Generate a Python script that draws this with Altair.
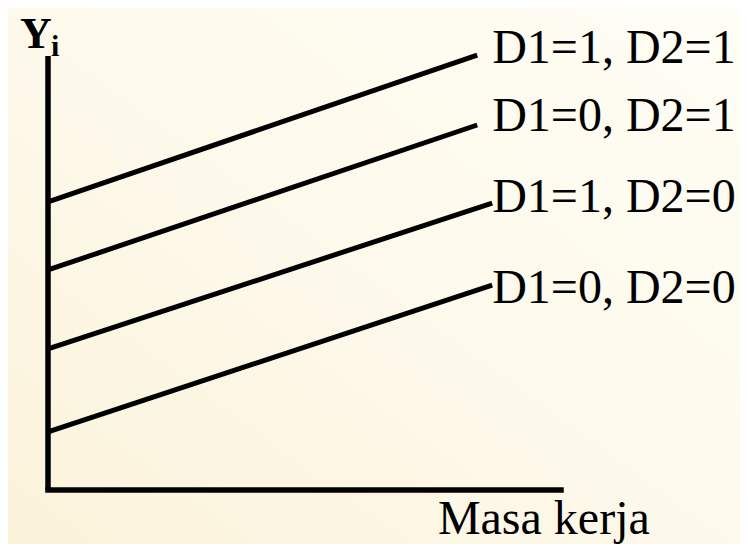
import altair as alt
import pandas as pd

# ---- data (chart units) ----
series = ["D1=1, D2=1", "D1=0, D2=1", "D1=1, D2=0", "D1=0, D2=0"]
x_start = [0, 0, 0, 0]
y_start = [6.64, 5.07, 3.25, 1.34]
x_end = [10.04, 10.04, 10.39, 10.39]
y_end = [10.02, 8.41, 6.61, 4.72]
label_x = [10.39, 10.39, 10.39, 10.39]
label_y = [9.84, 8.27, 6.41, 4.31]

axis_x0 = [0, 0]
axis_y0 = [0, 0]
axis_x1 = [0, 12]
axis_y1 = [10, 0]

lines_df = pd.DataFrame({"series": series, "x0": x_start, "y0": y_start,
                         "x1": x_end, "y1": y_end})
labels_df = pd.DataFrame({"text": series, "x": label_x, "y": label_y})
axes_df = pd.DataFrame({"x0": axis_x0, "y0": axis_y0, "x1": axis_x1, "y1": axis_y1})

W, H = 732, 536
xs = alt.Scale(domain=[0, 12], range=[40, 553], nice=False, zero=False)
ys = alt.Scale(domain=[0, 10], range=[482, 48], nice=False, zero=False)
FONT = "Liberation Serif"

grad = alt.Gradient(
    gradient="linear",
    stops=[alt.GradientStop(color="#FBF2DA", offset=0),
           alt.GradientStop(color="#FDF9EB", offset=0.5),
           alt.GradientStop(color="#FFFEF5", offset=1)],
    x1=0, y1=1, x2=1, y2=0,
)

bg = alt.Chart(pd.DataFrame({"a": [0]})).mark_rect(color=grad).encode(
    x=alt.value(0), x2=alt.value(W), y=alt.value(0), y2=alt.value(H)
)

vaxis = alt.Chart(axes_df.iloc[[0]]).mark_rule(color="black", strokeWidth=5.5, strokeCap="butt").encode(
    x=alt.X("x0:Q", scale=xs, axis=None), y=alt.Y("y0:Q", scale=ys, axis=None),
    x2="x1:Q", y2="y1:Q")
haxis = alt.Chart(axes_df.iloc[[1]]).mark_rule(color="black", strokeWidth=5.5, strokeCap="square").encode(
    x=alt.X("x0:Q", scale=xs, axis=None), y=alt.Y("y0:Q", scale=ys, axis=None),
    x2="x1:Q", y2="y1:Q")

lines = alt.Chart(lines_df).mark_rule(color="black", strokeWidth=5, strokeCap="butt").encode(
    x=alt.X("x0:Q", scale=xs, axis=None), y=alt.Y("y0:Q", scale=ys, axis=None),
    x2="x1:Q", y2="y1:Q")

labels = alt.Chart(labels_df).mark_text(
    font=FONT, fontSize=48, align="left", baseline="alphabetic", color="black"
).encode(x=alt.X("x:Q", scale=xs, axis=None), y=alt.Y("y:Q", scale=ys, axis=None), text="text:N")

ytitle_df = pd.DataFrame({"text": ["Y"], "x": [-0.655], "y": [10.18]})
ysub_df = pd.DataFrame({"text": ["i"], "x": [0.07], "y": [10.0]})
xtitle_df = pd.DataFrame({"text": ["Masa kerja"], "x": [9.12], "y": [-1.01]})

ytitle = alt.Chart(ytitle_df).mark_text(
    font=FONT, fontSize=44, fontWeight="bold", align="left", baseline="alphabetic", color="black"
).encode(x=alt.X("x:Q", scale=xs, axis=None), y=alt.Y("y:Q", scale=ys, axis=None), text="text:N")
ysub = alt.Chart(ysub_df).mark_text(
    font=FONT, fontSize=30, fontWeight="bold", align="left", baseline="alphabetic", color="black"
).encode(x=alt.X("x:Q", scale=xs, axis=None), y=alt.Y("y:Q", scale=ys, axis=None), text="text:N")
xtitle = alt.Chart(xtitle_df).mark_text(
    font=FONT, fontSize=48, align="left", baseline="alphabetic", color="black"
).encode(x=alt.X("x:Q", scale=xs, axis=None), y=alt.Y("y:Q", scale=ys, axis=None), text="text:N")

chart = alt.layer(bg, lines, vaxis, haxis, labels, ytitle, ysub, xtitle).properties(
    width=W, height=H,
    autosize=alt.AutoSizeParams(type="none"),
    padding=0,
    background="#FDF8E8",
).configure_view(stroke=None)

chart.save("out.html", embed_options={"renderer": "svg", "actions": False})
